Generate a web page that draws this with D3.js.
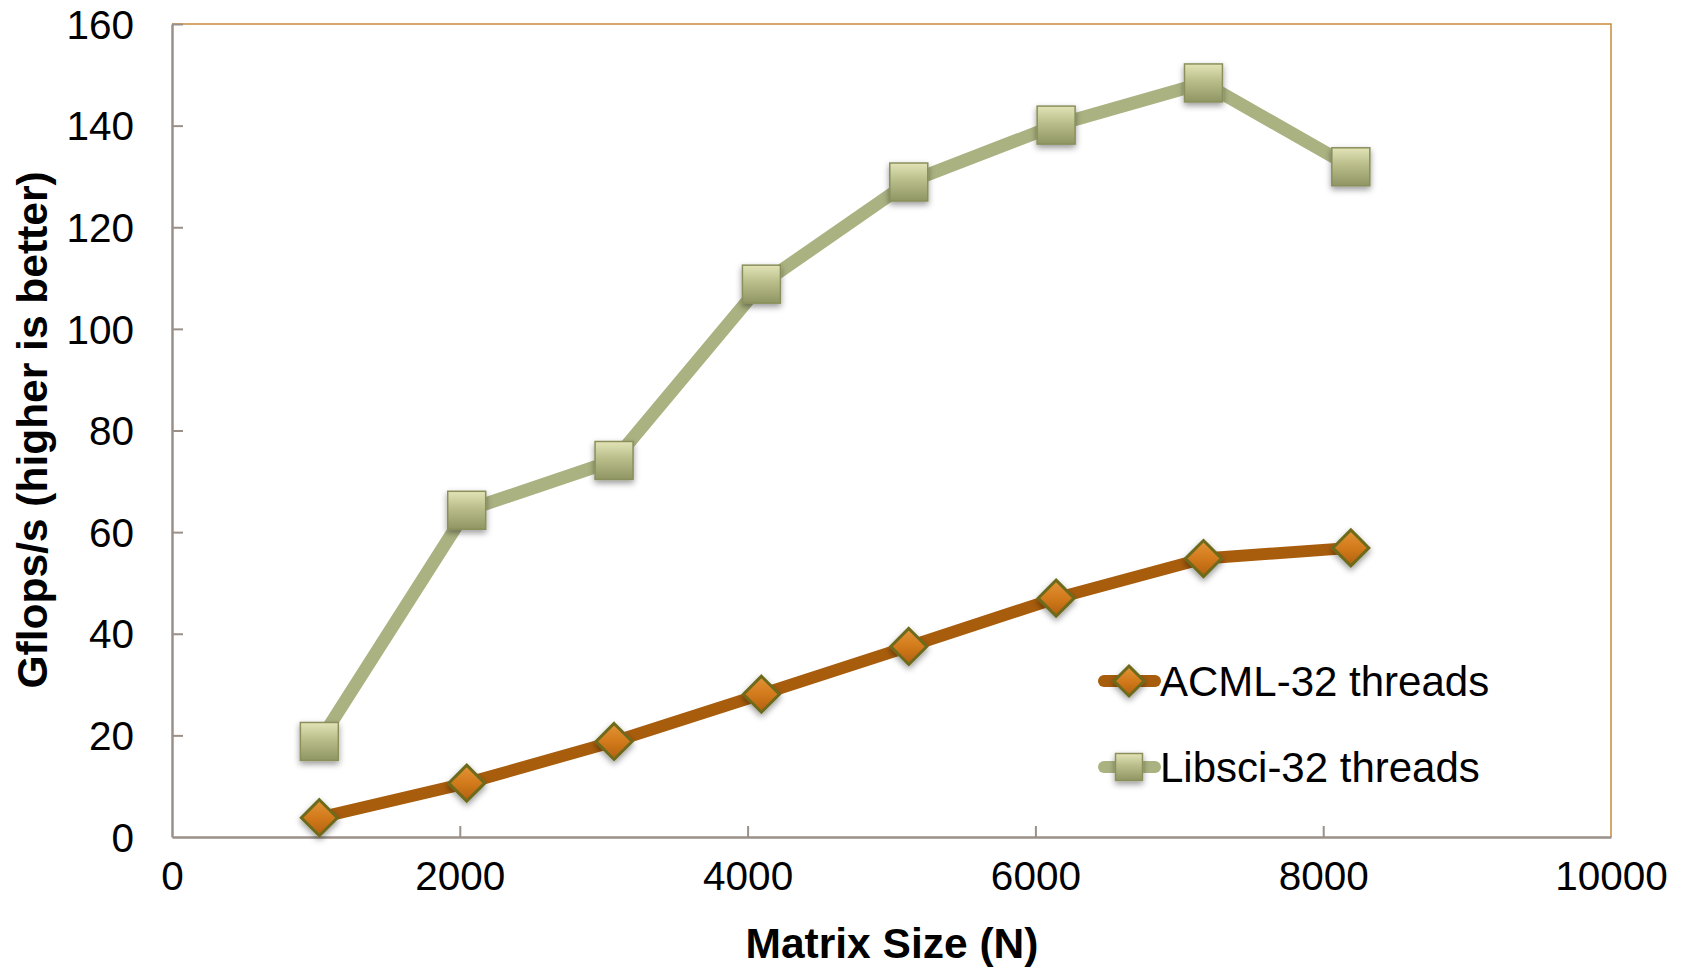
<!DOCTYPE html>
<html>
<head>
<meta charset="utf-8">
<script src="https://cdn.jsdelivr.net/npm/d3@7"></script>
<style>
	body { margin: 0; background: #fff; }
	text { font-family: "Liberation Sans", Arial, sans-serif; fill: #000; }
</style>
</head>
<body>
<div class="vis"></div>
<script>
// chart data
var matrixSizes = [1024, 2048, 3072, 4096, 5120, 6144, 7168, 8192];
var acml = [3.8, 10.6, 18.8, 28.1, 37.5, 47.0, 54.8, 56.9];
var libsci = [18.8, 64.3, 74.1, 108.8, 128.9, 140.1, 148.4, 131.9];
var seriesNames = ['ACML-32 threads', 'Libsci-32 threads'];
var xTicks = [0, 2000, 4000, 6000, 8000, 10000];
var yTicks = [0, 20, 40, 60, 80, 100, 120, 140, 160];

var W = 1686, H = 969;
var margin = {top: 24, right: 75, bottom: 132, left: 172};
var width = W - margin.left - margin.right,
	height = H - margin.top - margin.bottom;

var svg = d3.select('.vis').append('svg')
	.attr('width', W)
	.attr('height', H);

var defs = svg.append('defs');

var sqGrad = defs.append('linearGradient')
	.attr('id', 'sqGrad').attr('x1', 0).attr('y1', 0).attr('x2', 0).attr('y2', 1);
sqGrad.append('stop').attr('offset', '0%').attr('stop-color', '#e2e4b6');
sqGrad.append('stop').attr('offset', '45%').attr('stop-color', '#b9bd8a');
sqGrad.append('stop').attr('offset', '100%').attr('stop-color', '#8f9563');

var dmGrad = defs.append('linearGradient')
	.attr('id', 'dmGrad').attr('x1', 0).attr('y1', 0).attr('x2', 0).attr('y2', 1);
dmGrad.append('stop').attr('offset', '0%').attr('stop-color', '#e39438');
dmGrad.append('stop').attr('offset', '50%').attr('stop-color', '#d27a1c');
dmGrad.append('stop').attr('offset', '100%').attr('stop-color', '#b2600d');

var shadow = defs.append('filter').attr('id', 'shadow')
	.attr('x', '-50%').attr('y', '-50%').attr('width', '200%').attr('height', '200%');
shadow.append('feDropShadow')
	.attr('dx', 0).attr('dy', 3).attr('stdDeviation', 3)
	.attr('flood-color', '#000').attr('flood-opacity', 0.4);

var chart = svg.append('g')
	.attr('transform', 'translate(' + margin.left + ',' + margin.top + ')');

var scaleX = d3.scaleLinear().domain([0, 10000]).range([0, width]);
var scaleY = d3.scaleLinear().domain([0, 160]).range([height, 0]);

// frame: top and right in orange
chart.append('path')
	.attr('d', 'M0,0H' + width + 'V' + height)
	.attr('fill', 'none')
	.attr('stroke', '#c98a3a')
	.attr('stroke-width', 1.5);

var xAxis = d3.axisBottom(scaleX).tickValues(xTicks).tickFormat(d3.format('d'))
	.tickSizeInner(-11).tickSizeOuter(0).tickPadding(24);
var yAxis = d3.axisLeft(scaleY).tickValues(yTicks).tickFormat(d3.format('d'))
	.tickSizeInner(-11).tickSizeOuter(0).tickPadding(38);

var gx = chart.append('g')
	.attr('transform', 'translate(0,' + height + ')')
	.call(xAxis);
var gy = chart.append('g').call(yAxis);

[gx, gy].forEach(function(g) {
	g.select('.domain').attr('stroke', '#9a9088').attr('stroke-width', 2.5);
	g.selectAll('.tick line').attr('stroke', '#9a9088').attr('stroke-width', 2);
	g.selectAll('.tick text')
		.style('font-family', '"Liberation Sans", Arial, sans-serif')
		.style('font-size', '40.5px')
		.attr('fill', '#000');
});
gx.selectAll('.tick text').attr('dy', '0.71em');
gy.selectAll('.tick text').attr('dy', '0.35em');
gy.selectAll('.tick').filter(function(d) { return d === 0; }).select('line').remove();
gx.selectAll('.tick').filter(function(d) { return d === 0 || d === 10000; }).select('line').remove();

// axis titles
svg.append('text')
	.attr('x', 892)
	.attr('y', 958)
	.attr('text-anchor', 'middle')
	.style('font-size', '42.5px')
	.style('font-weight', 'bold')
	.text('Matrix Size (N)');

svg.append('text')
	.attr('transform', 'translate(47,430) rotate(-90)')
	.attr('text-anchor', 'middle')
	.style('font-size', '42.5px')
	.style('font-weight', 'bold')
	.text('Gflops/s (higher is better)');

var line = d3.line()
	.x(function(d) { return scaleX(d[0]); })
	.y(function(d) { return scaleY(d[1]); });

var libsciData = d3.zip(matrixSizes, libsci);
var acmlData = d3.zip(matrixSizes, acml);

chart.append('path')
	.datum(libsciData)
	.attr('d', line)
	.attr('fill', 'none')
	.attr('stroke', '#abb281')
	.attr('stroke-width', 13)
	.attr('stroke-linejoin', 'round');

chart.append('path')
	.datum(acmlData)
	.attr('d', line)
	.attr('fill', 'none')
	.attr('stroke', '#a85d0d')
	.attr('stroke-width', 12)
	.attr('stroke-linejoin', 'round');

function square(g, s) {
	g.append('rect')
		.attr('x', -s / 2).attr('y', -s / 2)
		.attr('width', s).attr('height', s)
		.attr('fill', 'url(#sqGrad)')
		.attr('stroke', '#8a8f5c')
		.attr('stroke-width', 1.5)
		.attr('filter', 'url(#shadow)');
}

function diamond(g, s) {
	var r = s / 2;
	g.append('path')
		.attr('d', 'M0,' + (-r) + 'L' + r + ',0L0,' + r + 'L' + (-r) + ',0Z')
		.attr('fill', 'url(#dmGrad)')
		.attr('stroke', '#6e6b1c')
		.attr('stroke-width', 3)
		.attr('filter', 'url(#shadow)');
}

chart.selectAll('.sq')
	.data(libsciData)
	.enter().append('g')
	.attr('class', 'sq')
	.attr('transform', function(d) { return 'translate(' + scaleX(d[0]) + ',' + scaleY(d[1]) + ')'; })
	.each(function() { square(d3.select(this), 38); });

chart.selectAll('.dm')
	.data(acmlData)
	.enter().append('g')
	.attr('class', 'dm')
	.attr('transform', function(d) { return 'translate(' + scaleX(d[0]) + ',' + scaleY(d[1]) + ')'; })
	.each(function() { diamond(d3.select(this), 36); });

// legend
var legend = svg.append('g');
var legendItems = [
	{name: seriesNames[0], color: '#a85d0d', y: 681, mark: diamond, size: 30},
	{name: seriesNames[1], color: '#abb281', y: 767, mark: square, size: 27}
];
legendItems.forEach(function(d) {
	var g = legend.append('g').attr('transform', 'translate(0,' + d.y + ')');
	g.append('line')
		.attr('x1', 1104).attr('x2', 1155)
		.attr('stroke', d.color)
		.attr('stroke-width', 12)
		.attr('stroke-linecap', 'round');
	var m = g.append('g').attr('transform', 'translate(1129,0)');
	d.mark(m, d.size);
	g.append('text')
		.attr('x', 1160)
		.attr('dy', '0.35em')
		.style('font-size', '42px')
		.text(d.name);
});
</script>
</body>
</html>
